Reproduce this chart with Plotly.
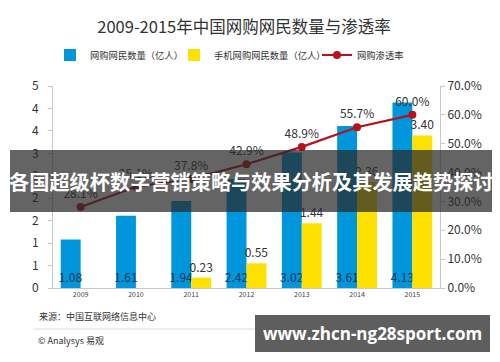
import plotly.graph_objects as go

years = ["2009", "2010", "2011", "2012", "2013", "2014", "2015"]
online_buyers = [1.08, 1.61, 1.94, 2.42, 3.02, 3.61, 4.13]
mobile_buyers = [None, None, 0.23, 0.55, 1.44, 2.36, 3.40]
penetration = [0.281, 0.351, 0.378, 0.429, 0.489, 0.557, 0.600]

left_tickvals = [0, 0.5, 1, 1.5, 2, 2.5, 3, 3.5, 4, 4.5]
left_ticktext = ["0", "1", "1", "2", "2", "3", "3", "4", "4", "5"]

title_text = "2009-2015年中国网购网民数量与渗透率"
series_names = ["网购网民数量（亿人）", "手机网购网民数量（亿人）", "网购渗透率"]
banner_text = "各国超级杯数字营销策略与效果分析及其发展趋势探讨"
source_text = "来源：中国互联网络信息中心"
brand_text = "© Analysys 易观"
watermark_text = "www.zhcn-ng28sport.com"

FONT = "Noto Sans CJK SC, Noto Sans, sans-serif"
BLUE = "#0096DC"
YELLOW = "#FFE100"
RED = "#B5121B"

# page body adds an 8px offset; layout is expressed in screen pixels
OFF = 8
pw, ph = 387.0, 202.0
def px(x):
    return (x - 53) / pw
def py(y):
    return (288 - y) / ph

fig = go.Figure()
fig.add_trace(go.Bar(
    x=years, y=online_buyers, name=series_names[0], legend="legend",
    marker=dict(color=BLUE, line=dict(width=0)),
    text=[f"{v:.2f}" for v in online_buyers],
    textposition="inside", insidetextanchor="start", constraintext="none", textangle=0,
    textfont=dict(color="#1d3552", size=12, family=FONT),
))
fig.add_trace(go.Bar(
    x=years, y=mobile_buyers, name=series_names[1], legend="legend2",
    marker=dict(color=YELLOW, line=dict(width=0)),
    text=[("" if v is None else f"{v:.2f}") for v in mobile_buyers],
    textposition="outside", constraintext="none", cliponaxis=False, textangle=0,
    textfont=dict(color="#333333", size=12, family=FONT),
))
fig.add_trace(go.Scatter(
    x=years, y=penetration, name=series_names[2], yaxis="y2", legend="legend3",
    mode="lines+markers+text",
    line=dict(color=RED, width=2.2),
    marker=dict(color=RED, size=8),
    texttemplate="%{y:.1%}", textposition="top center",
    textfont=dict(color="#333333", size=12, family=FONT),
    cliponaxis=False,
))

def leg(x_left):
    return dict(orientation="h", x=px(x_left), xanchor="left", y=py(55), yanchor="middle",
                font=dict(size=9.3, color="#333333", family=FONT),
                itemwidth=30, bgcolor="rgba(0,0,0,0)", borderwidth=0)

fig.update_layout(
    width=500, height=362,
    margin=dict(l=53 - OFF, r=500 - 440 + OFF, t=86 - OFF, b=362 - 288 + OFF, autoexpand=False),
    paper_bgcolor="white", plot_bgcolor="white",
    barmode="group", bargap=0.28, bargroupgap=0,
    font=dict(family=FONT, color="#333333"),
    title=dict(text=title_text, x=(244 - OFF) / 500, xanchor="center",
               y=1 - (27 - OFF) / 362, yanchor="middle",
               font=dict(size=16.5, color="#333333", family=FONT)),
    legend=leg(50), legend2=leg(174), legend3=leg(317),
    showlegend=True,
    xaxis=dict(type="category", showgrid=False, showline=True, linecolor="#c8c8c8",
               ticks="", tickfont=dict(size=7, color="#444444")),
    yaxis=dict(range=[0, 4.5], tickvals=left_tickvals, ticktext=left_ticktext,
               showgrid=False, showline=True, linecolor="#c8c8c8", ticks="outside",
               ticklen=4, tickcolor="#c8c8c8", tickfont=dict(size=12, color="#333333"),
               ticklabelstandoff=7, zeroline=False),
    yaxis2=dict(range=[0, 0.7], overlaying="y", side="right", tickformat=".1%",
                dtick=0.1, showgrid=False, showline=True, linecolor="#c8c8c8",
                ticks="outside", ticklen=4, tickcolor="#c8c8c8",
                tickfont=dict(size=12, color="#333333"), zeroline=False),
)

shapes = [
    dict(type="rect", xref="paper", yref="paper", x0=px(10), x1=px(492), y0=py(212), y1=py(150),
         fillcolor="rgba(40,40,40,0.72)", line=dict(width=0), layer="above"),
    dict(type="line", xref="paper", yref="paper", x0=px(33), x1=px(490), y0=py(329), y1=py(329),
         line=dict(color="#dddddd", width=1)),
    dict(type="rect", xref="paper", yref="paper", x0=px(255), x1=px(490), y0=py(352), y1=py(315),
         fillcolor="#5e5e5e", line=dict(width=0), layer="above"),
]
annotations = [
    dict(text="<b>" + banner_text + "</b>", xref="paper", yref="paper", x=px(251), y=py(181),
         showarrow=False, xanchor="center", yanchor="middle",
         font=dict(size=20.2, color="white", family="Noto Sans CJK SC")),
    dict(text=source_text, xref="paper", yref="paper", x=px(37), y=py(316), showarrow=False,
         xanchor="left", yanchor="middle", font=dict(size=9, color="#333333", family=FONT)),
    dict(text=brand_text, xref="paper", yref="paper", x=px(36), y=py(340), showarrow=False,
         xanchor="left", yanchor="middle", font=dict(size=9, color="#333333", family=FONT)),
    dict(text="<b>" + watermark_text + "</b>", xref="paper", yref="paper", x=px(372), y=py(333),
         showarrow=False, xanchor="center", yanchor="middle",
         font=dict(size=17, color="white", family="Open Sans, sans-serif")),
]
fig.update_layout(shapes=shapes, annotations=annotations)

fig.write_html("out.html")
